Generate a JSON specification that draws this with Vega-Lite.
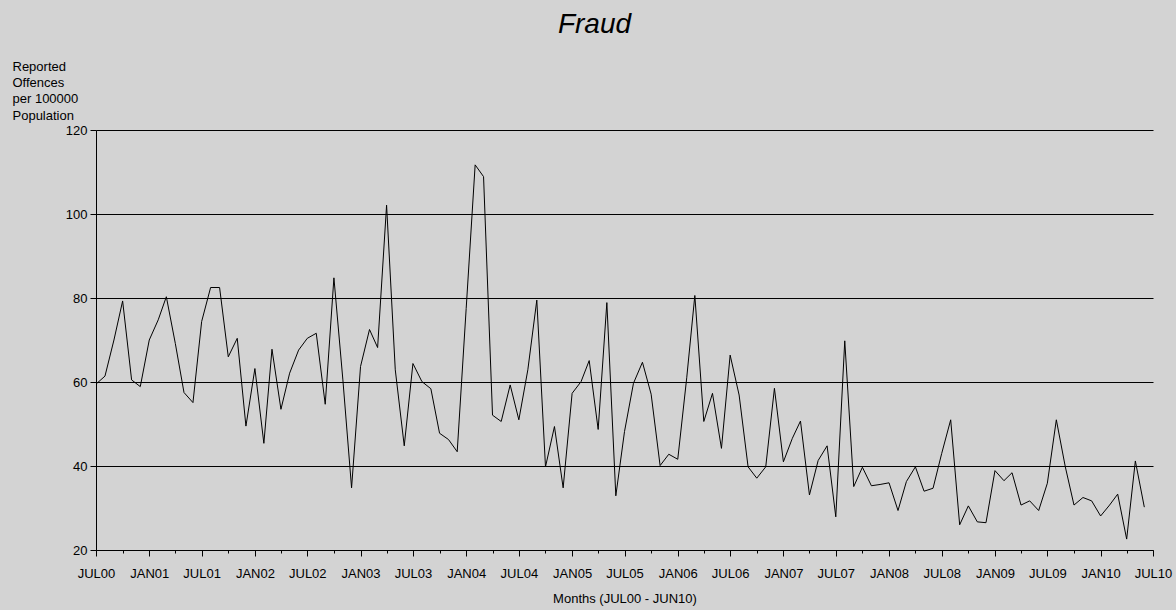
{
  "$schema": "https://vega.github.io/schema/vega-lite/v6.json",
  "width": 1057,
  "height": 420,
  "autosize": {"type": "none"},
  "padding": {"left": 96, "top": 130, "right": 23, "bottom": 60},
  "background": "#d3d3d3",
  "title": {
    "text": "Fraud",
    "font": "Liberation Sans",
    "fontSize": 28,
    "fontStyle": "italic",
    "fontWeight": "normal",
    "color": "#000000",
    "anchor": "middle",
    "dx": -30,
    "offset": 21
  },
  "config": {
    "view": {"stroke": null, "fill": null},
    "axis": {
      "labelFont": "Liberation Sans",
      "titleFont": "Liberation Sans",
      "labelFontSize": 13,
      "titleFontSize": 13,
      "labelColor": "#000000",
      "titleColor": "#000000",
      "titleFontWeight": "normal",
      "domainColor": "#000000",
      "tickColor": "#000000",
      "gridColor": "#000000",
      "gridOpacity": 1,
      "domainWidth": 1,
      "tickWidth": 1,
      "gridWidth": 1
    }
  },
  "data": {
    "values": [
      {"month": "2000-07-01", "value": 59.5},
      {"month": "2000-08-01", "value": 61.4},
      {"month": "2000-09-01", "value": 70.0},
      {"month": "2000-10-01", "value": 79.3},
      {"month": "2000-11-01", "value": 60.5},
      {"month": "2000-12-01", "value": 58.9},
      {"month": "2001-01-01", "value": 70.0},
      {"month": "2001-02-01", "value": 74.8},
      {"month": "2001-03-01", "value": 80.3},
      {"month": "2001-04-01", "value": 69.2},
      {"month": "2001-05-01", "value": 57.5},
      {"month": "2001-06-01", "value": 55.1},
      {"month": "2001-07-01", "value": 74.4},
      {"month": "2001-08-01", "value": 82.5},
      {"month": "2001-09-01", "value": 82.5},
      {"month": "2001-10-01", "value": 66.0},
      {"month": "2001-11-01", "value": 70.4},
      {"month": "2001-12-01", "value": 49.5},
      {"month": "2002-01-01", "value": 63.2},
      {"month": "2002-02-01", "value": 45.4},
      {"month": "2002-03-01", "value": 67.8},
      {"month": "2002-04-01", "value": 53.5},
      {"month": "2002-05-01", "value": 62.1},
      {"month": "2002-06-01", "value": 67.6},
      {"month": "2002-07-01", "value": 70.4},
      {"month": "2002-08-01", "value": 71.6},
      {"month": "2002-09-01", "value": 54.7},
      {"month": "2002-10-01", "value": 84.8},
      {"month": "2002-11-01", "value": 60.5},
      {"month": "2002-12-01", "value": 34.8},
      {"month": "2003-01-01", "value": 63.7},
      {"month": "2003-02-01", "value": 72.5},
      {"month": "2003-03-01", "value": 68.2},
      {"month": "2003-04-01", "value": 102.1},
      {"month": "2003-05-01", "value": 62.9},
      {"month": "2003-06-01", "value": 44.8},
      {"month": "2003-07-01", "value": 64.4},
      {"month": "2003-08-01", "value": 60.1},
      {"month": "2003-09-01", "value": 58.4},
      {"month": "2003-10-01", "value": 47.8},
      {"month": "2003-11-01", "value": 46.3},
      {"month": "2003-12-01", "value": 43.4},
      {"month": "2004-01-01", "value": 77.5},
      {"month": "2004-02-01", "value": 111.7},
      {"month": "2004-03-01", "value": 108.9},
      {"month": "2004-04-01", "value": 52.1},
      {"month": "2004-05-01", "value": 50.6},
      {"month": "2004-06-01", "value": 59.3},
      {"month": "2004-07-01", "value": 51.0},
      {"month": "2004-08-01", "value": 62.9},
      {"month": "2004-09-01", "value": 79.5},
      {"month": "2004-10-01", "value": 39.8},
      {"month": "2004-11-01", "value": 49.4},
      {"month": "2004-12-01", "value": 34.8},
      {"month": "2005-01-01", "value": 57.3},
      {"month": "2005-02-01", "value": 60.1},
      {"month": "2005-03-01", "value": 65.1},
      {"month": "2005-04-01", "value": 48.7},
      {"month": "2005-05-01", "value": 78.9},
      {"month": "2005-06-01", "value": 32.9},
      {"month": "2005-07-01", "value": 48.2},
      {"month": "2005-08-01", "value": 59.7},
      {"month": "2005-09-01", "value": 64.7},
      {"month": "2005-10-01", "value": 57.1},
      {"month": "2005-11-01", "value": 40.1},
      {"month": "2005-12-01", "value": 42.8},
      {"month": "2006-01-01", "value": 41.6},
      {"month": "2006-02-01", "value": 61.0},
      {"month": "2006-03-01", "value": 80.6},
      {"month": "2006-04-01", "value": 50.6},
      {"month": "2006-05-01", "value": 57.3},
      {"month": "2006-06-01", "value": 44.2},
      {"month": "2006-07-01", "value": 66.4},
      {"month": "2006-08-01", "value": 56.9},
      {"month": "2006-09-01", "value": 39.8},
      {"month": "2006-10-01", "value": 37.1},
      {"month": "2006-11-01", "value": 39.8},
      {"month": "2006-12-01", "value": 58.5},
      {"month": "2007-01-01", "value": 41.0},
      {"month": "2007-02-01", "value": 46.6},
      {"month": "2007-03-01", "value": 50.7},
      {"month": "2007-04-01", "value": 33.1},
      {"month": "2007-05-01", "value": 41.3},
      {"month": "2007-06-01", "value": 44.8},
      {"month": "2007-07-01", "value": 27.9},
      {"month": "2007-08-01", "value": 69.8},
      {"month": "2007-09-01", "value": 35.1},
      {"month": "2007-10-01", "value": 39.7},
      {"month": "2007-11-01", "value": 35.3},
      {"month": "2007-12-01", "value": 35.6},
      {"month": "2008-01-01", "value": 36.0},
      {"month": "2008-02-01", "value": 29.4},
      {"month": "2008-03-01", "value": 36.3},
      {"month": "2008-04-01", "value": 39.8},
      {"month": "2008-05-01", "value": 34.0},
      {"month": "2008-06-01", "value": 34.7},
      {"month": "2008-07-01", "value": 43.0},
      {"month": "2008-08-01", "value": 51.0},
      {"month": "2008-09-01", "value": 26.0},
      {"month": "2008-10-01", "value": 30.5},
      {"month": "2008-11-01", "value": 26.7},
      {"month": "2008-12-01", "value": 26.5},
      {"month": "2009-01-01", "value": 38.9},
      {"month": "2009-02-01", "value": 36.5},
      {"month": "2009-03-01", "value": 38.4},
      {"month": "2009-04-01", "value": 30.7},
      {"month": "2009-05-01", "value": 31.7},
      {"month": "2009-06-01", "value": 29.4},
      {"month": "2009-07-01", "value": 35.9},
      {"month": "2009-08-01", "value": 51.0},
      {"month": "2009-09-01", "value": 39.8},
      {"month": "2009-10-01", "value": 30.7},
      {"month": "2009-11-01", "value": 32.5},
      {"month": "2009-12-01", "value": 31.7},
      {"month": "2010-01-01", "value": 28.1},
      {"month": "2010-02-01", "value": 30.7},
      {"month": "2010-03-01", "value": 33.3},
      {"month": "2010-04-01", "value": 22.6},
      {"month": "2010-05-01", "value": 41.2},
      {"month": "2010-06-01", "value": 30.2}
    ]
  },
  "mark": {"type": "line", "color": "#000000", "strokeWidth": 1, "interpolate": "linear"},
  "encoding": {
    "x": {
      "field": "month",
      "type": "temporal",
      "scale": {
        "type": "utc",
        "domain": [
          {"year": 2000, "month": 7, "date": 1, "utc": true},
          {"year": 2010, "month": 7, "date": 1, "utc": true}
        ]
      },
      "axis": {
        "title": "Months (JUL00 - JUN10)",
        "titlePadding": 12,
        "grid": false,
        "tickCount": {"interval": "month", "step": 3},
        "tickSize": {"condition": {"test": "utcmonth(datum.value) % 6 == 0", "value": 6}, "value": 3},
        "labelPadding": 11,
        "labelFlush": false,
        "labelOverlap": false,
        "labelExpr": "utcmonth(datum.value) % 6 == 0 ? upper(utcFormat(datum.value, '%b%y')) : ''"
      }
    },
    "y": {
      "field": "value",
      "type": "quantitative",
      "scale": {"domain": [20, 120], "nice": false, "zero": false},
      "axis": {
        "values": [20, 40, 60, 80, 100, 120],
        "grid": true,
        "domain": true,
        "tickSize": 6,
        "labelPadding": 3,
        "title": ["Reported", "Offences", "per 100000", "Population"],
        "titleAngle": 0,
        "titleAlign": "left",
        "titleBaseline": "alphabetic",
        "titleX": -84,
        "titleY": -60,
        "titleLineHeight": 16.4
      }
    }
  }
}
